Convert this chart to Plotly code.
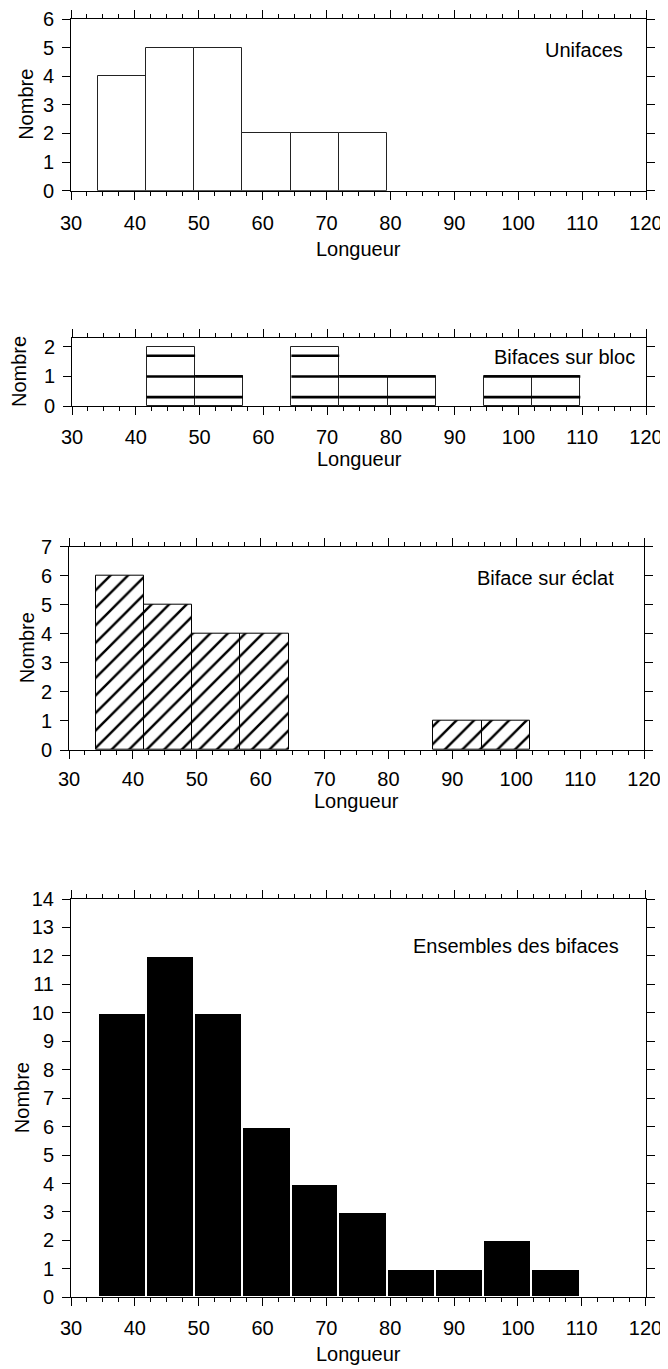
import plotly.graph_objects as go

# the page body keeps its default 8px margin, so the figure is drawn 8px in
OFF = 8
W, H = 668 - OFF, 1369 - OFF

# histogram classes (longueur, mm) and counts per class
bin_edges = [34.2, 41.7, 49.3, 56.8, 64.4, 71.9, 79.5, 87.0, 94.6, 102.1, 109.7, 117.2]
unifaces = [4, 5, 5, 2, 2, 2, 0, 0, 0, 0, 0]
bifaces_bloc = [0, 2, 1, 0, 2, 1, 1, 0, 1, 1, 0]
biface_eclat = [6, 5, 4, 4, 0, 0, 0, 1, 1, 0, 0]
ensemble = [10, 12, 10, 6, 4, 3, 1, 1, 2, 1, 0]

x_ticks = [30, 40, 50, 60, 70, 80, 90, 100, 110, 120]

FONT = "Liberation Sans, Arial, sans-serif"
FS = 20

# pixel geometry (page coords) of each panel: top, bottom, left, right of the plot area
panels = [
    dict(counts=unifaces, label="Unifaces", ymax=6, ntick=6, style="open", xstand=6,
         box=(19, 190.7, 71, 646), lab_y=50, lab_x=625, ytitle_x=26, xtitle_y=249),
    dict(counts=bifaces_bloc, label="Bifaces sur bloc", ymax=2.3, ntick=2, style="lines", xstand=5,
         box=(338, 406, 72, 646), lab_y=357, lab_x=637, ytitle_x=19, xtitle_y=459),
    dict(counts=biface_eclat, label="Biface sur éclat", ymax=7, ntick=7, style="hatch", xstand=3,
         box=(546.7, 750, 69, 644), lab_y=578, lab_x=616, ytitle_x=27, xtitle_y=801),
    dict(counts=ensemble, label="Ensembles des bifaces", ymax=14, ntick=14, style="solid", xstand=5,
         box=(899, 1297.3, 71, 645.5), lab_y=946, lab_x=621, ytitle_x=22, xtitle_y=1354),
]

centers = [(a + b) / 2 for a, b in zip(bin_edges[:-1], bin_edges[1:])]
widths = [b - a for a, b in zip(bin_edges[:-1], bin_edges[1:])]

fig = go.Figure()
annotations = []


def px_x(v):
    return (v - OFF) / W


def px_y(v):
    return 1 - (v - OFF) / H


for i, p in enumerate(panels, start=1):
    sfx = "" if i == 1 else str(i)
    xa, ya = "x" + sfx, "y" + sfx
    top, bottom, left, right = p["box"]

    keep = [k for k, c in enumerate(p["counts"]) if c > 0]
    xs = [centers[k] for k in keep]
    ys = [p["counts"][k] for k in keep]
    ws = [widths[k] for k in keep]

    if p["style"] == "solid":
        marker = dict(color="black", line=dict(color="white", width=2))
    elif p["style"] == "hatch":
        marker = dict(color="white", line=dict(color="black", width=1),
                      pattern=dict(shape="/", size=12.4, solidity=0.2, fgopacity=1,
                                   fgcolor="black", bgcolor="white"))
    else:
        marker = dict(color="white", line=dict(color="#222", width=1))

    fig.add_trace(go.Bar(x=xs, y=ys, width=ws, marker=marker, xaxis=xa, yaxis=ya,
                         showlegend=False, hoverinfo="x+y"))

    if p["style"] == "lines":
        lx, ly = [], []
        for k in keep:
            for lvl in (0.3, 1.0, 1.7):
                if lvl <= p["counts"][k] + 1e-9:
                    lx += [bin_edges[k], bin_edges[k + 1], None]
                    ly += [lvl, lvl, None]
        fig.add_trace(go.Scatter(x=lx, y=ly, mode="lines", line=dict(color="black", width=2.6),
                                 xaxis=xa, yaxis=ya, showlegend=False, hoverinfo="skip"))

    axcommon = dict(showline=True, linecolor="black", linewidth=1, mirror="ticks",
                    ticks="outside", ticklen=8, tickwidth=1, tickcolor="black",
                    showgrid=False, zeroline=False, automargin=False,
                    tickfont=dict(family=FONT, size=FS, color="black"))
    fig.layout["xaxis" + sfx] = dict(
        domain=[px_x(left), px_x(right)], anchor=ya, range=[30, 120],
        tickvals=x_ticks, ticktext=[str(t) for t in x_ticks], ticklabelstandoff=p["xstand"],
        minor=dict(dtick=2.5, tick0=30, ticks="outside", ticklen=4, tickcolor="black", showgrid=False),
        **axcommon)
    fig.layout["yaxis" + sfx] = dict(
        domain=[px_y(bottom), px_y(top)], anchor=xa, range=[0, p["ymax"]],
        tickvals=list(range(0, p["ntick"] + 1)), ticklabelstandoff=4, **axcommon)

    txt = dict(xref="paper", yref="paper", showarrow=False,
               font=dict(family=FONT, size=FS, color="black"))
    annotations.append(dict(text=p["label"], x=px_x(p["lab_x"]), y=px_y(p["lab_y"]),
                            xanchor="right", yanchor="middle", **txt))
    annotations.append(dict(text="Longueur", x=px_x((left + right) / 2), y=px_y(p["xtitle_y"]),
                            xanchor="center", yanchor="middle", **txt))
    annotations.append(dict(text="Nombre", x=px_x(p["ytitle_x"]), y=px_y((top + bottom) / 2),
                            xanchor="center", yanchor="middle", textangle=-90, **txt))

fig.update_layout(
    width=W, height=H,
    margin=dict(l=0, r=0, t=0, b=0, pad=0),
    paper_bgcolor="white", plot_bgcolor="white",
    bargap=0,
    annotations=annotations,
    font=dict(family=FONT, size=FS, color="black"),
)

fig.write_html("out.html")
